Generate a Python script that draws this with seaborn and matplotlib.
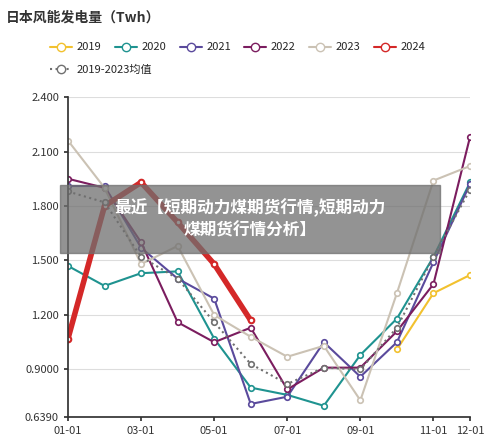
import matplotlib
matplotlib.use("Agg")
import matplotlib.pyplot as plt
from matplotlib.lines import Line2D
import seaborn as sns
import pandas as pd
import numpy as np

months = ["01-01","02-01","03-01","04-01","05-01","06-01","07-01","08-01","09-01","10-01","11-01","12-01"]
y2019 = [None]*9 + [1.01, 1.32, 1.42]
y2020 = [1.47,1.36,1.43,1.44,1.07,0.80,0.76,0.70,0.98,1.18,1.52,1.93]
y2021 = [1.91,1.91,1.57,1.40,1.29,0.71,0.75,1.05,0.86,1.05,1.49,1.92]
y2022 = [1.95,1.90,1.60,1.16,1.05,1.13,0.79,0.91,0.91,1.11,1.37,2.18]
y2023 = [2.16,1.90,1.48,1.58,1.20,1.08,0.97,1.03,0.73,1.32,1.94,2.02]
y2024 = [1.07,1.80,1.93,1.71,1.48,1.17] + [None]*6
yavg = [1.88,1.82,1.52,1.40,1.16,0.93,0.82,0.91,0.90,1.13,1.52,1.89]
yticks = [0.639,0.9,1.2,1.5,1.8,2.1,2.4]
ytick_labels = ["0.6390","0.9000","1.200","1.500","1.800","2.100","2.400"]
xtick_show = ["01-01","03-01","05-01","07-01","09-01","11-01","12-01"]

sns.set_theme(style="white")
plt.rcParams['font.family'] = ['Noto Sans CJK SC', 'DejaVu Sans']

series = [("2019", y2019, "#f2c12e", 1.5, "-"),
          ("2020", y2020, "#1f9390", 1.5, "-"),
          ("2021", y2021, "#5a4a9c", 1.5, "-"),
          ("2022", y2022, "#7b1d5f", 1.5, "-"),
          ("2023", y2023, "#cbc2b4", 1.5, "-"),
          ("2024", y2024, "#d42828", 4, "-"),
          ("2019-2023均值", yavg, "#707070", 1.5, ":")]

fig = plt.figure(figsize=(5, 4.43), dpi=100)
ax = fig.add_axes([0.136, 0.059, 0.804, 0.722])
x = np.arange(12)
handles = []
for name, vals, col, lw, ls in series:
    df = pd.DataFrame({"x": x, "y": [np.nan if v is None else v for v in vals]}).dropna()
    sns.lineplot(data=df, x="x", y="y", ax=ax, color=col, linewidth=lw, linestyle=ls,
                 marker="o", markersize=4, markerfacecolor="white", markeredgecolor=col,
                 markeredgewidth=1.2 if lw < 3 else 1.5, label=None)
    handles.append(Line2D([], [], color=col, lw=1.5, ls="-" if ls == "-" else ":", marker="o",
                          markersize=6, markerfacecolor="white", markeredgecolor=col))

ax.set_xlim(0, 11)
ax.set_ylim(0.639, 2.4)
ax.set_yticks(yticks)
ax.set_yticklabels(ytick_labels, fontsize=8, color="#333")
ax.set_xticks([months.index(m) for m in xtick_show])
ax.set_xticklabels(xtick_show, fontsize=8, color="#333")
ax.set_xlabel(""); ax.set_ylabel("")
ax.grid(axis="y", color="#dddddd", lw=0.8)
for s in ["top", "right"]:
    ax.spines[s].set_visible(False)
ax.spines["left"].set_color("#333"); ax.spines["bottom"].set_color("#333")
ax.tick_params(axis="both", length=3, color="#333", left=True, bottom=True)

fig.text(0.012, 0.96, "日本风能发电量（Twh）", fontsize=10, fontweight="bold", color="#333", va="center")
fig.legend(handles[:6], [s[0] for s in series[:6]], loc="center left",
           bbox_to_anchor=(0.08, 0.893), ncol=6, frameon=False, fontsize=8,
           handlelength=2, columnspacing=1.2, handletextpad=0.4)
fig.legend(handles[6:], [series[6][0]], loc="center left", bbox_to_anchor=(0.08, 0.842),
           frameon=False, fontsize=8, handlelength=2, handletextpad=0.4)

fig.patches.append(plt.Rectangle((0.12, 0.43), 0.76, 0.152, transform=fig.transFigure,
                                 color="#6f6f6f", alpha=0.75, zorder=10))
fig.text(0.5, 0.506, "最近【短期动力煤期货行情,短期动力\n煤期货行情分析】", ha="center", va="center",
         fontsize=12, fontweight="bold", color="white", zorder=11, linespacing=1.3)

fig.savefig("out.png", dpi=100)
